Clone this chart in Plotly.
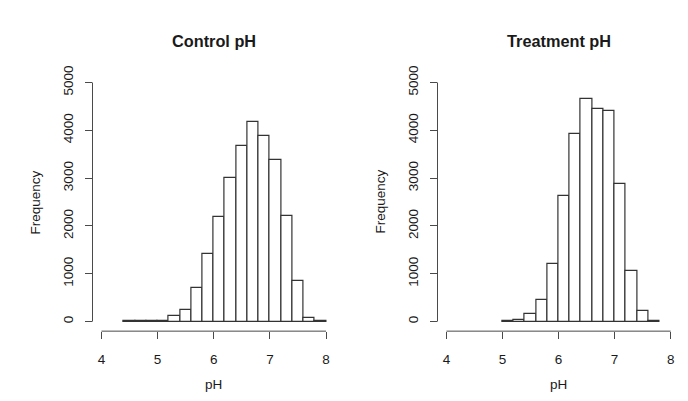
import numpy as np
import plotly.graph_objects as go

# ---- data ----
control_edges = [4.4, 4.6, 4.8, 5.0, 5.2, 5.4, 5.6, 5.8, 6.0, 6.2, 6.4, 6.6, 6.8, 7.0, 7.2, 7.4, 7.6, 7.8, 8.0]
control_counts = [8, 8, 12, 20, 116, 253, 712, 1411, 2192, 3007, 3664, 4178, 3877, 3377, 2205, 849, 82, 15]
treatment_edges = [5.0, 5.2, 5.4, 5.6, 5.8, 6.0, 6.2, 6.4, 6.6, 6.8, 7.0, 7.2, 7.4, 7.6, 7.8]
treatment_counts = [10, 30, 170, 445, 1199, 2637, 3932, 4664, 4445, 4397, 2877, 1062, 226, 15]
x_ticks = [4, 5, 6, 7, 8]
y_ticks = [0, 1000, 2000, 3000, 4000, 5000]
titles = ["Control pH", "Treatment pH"]
x_label = "pH"
y_label = "Frequency"

FONT = "Liberation Sans, Arial, sans-serif"
TXT = "#1a1a1a"
AX = "#4a4a4a"
FS = 13.5
TFS = 16.3

W, H = 688, 401
PAD = 8  # default page body margin
FW, FH = W - 2 * PAD, H - 2 * PAD


def xf(px):
    return (px - PAD) / FW


def yf(py):
    return 1 - (py - PAD) / FH


fig = go.Figure()

panels = [
    (control_edges, control_counts, "x", "y", [xf(92.5), xf(335.0)]),
    (treatment_edges, treatment_counts, "x2", "y2", [xf(437.5), xf(679.6)]),
]
ydom = [yf(330.0), yf(67.0)]

layout = dict(
    width=FW, height=FH, margin=dict(l=0, r=0, t=0, b=0),
    paper_bgcolor="white", plot_bgcolor="white", showlegend=False,
    bargap=0, font=dict(family=FONT, color=TXT, size=FS),
)
shapes = []
annotations = []
for i, (edges, counts, xa, ya, xdom) in enumerate(panels):
    e = np.array(edges)
    centers = (e[:-1] + e[1:]) / 2
    widths = np.diff(e)
    fig.add_trace(go.Bar(
        x=centers, y=counts, width=widths, xaxis=xa, yaxis=ya,
        marker=dict(color="white", line=dict(color="#333333", width=1.2)),
        hoverinfo="x+y",
    ))
    xk = "xaxis" if xa == "x" else "xaxis2"
    yk = "yaxis" if ya == "y" else "yaxis2"
    layout[xk] = dict(
        domain=xdom, range=[3.84, 8.16], anchor=ya,
        tickvals=x_ticks, ticktext=[str(t) for t in x_ticks],
        ticks="outside", ticklen=7, tickcolor=AX, tickwidth=1,
        showline=False, showgrid=False, zeroline=False,
        tickfont=dict(size=FS, color=TXT, family=FONT), ticklabelstandoff=9,
    )
    layout[yk] = dict(
        domain=ydom, range=[-200, 5200], anchor=xa,
        tickvals=y_ticks, ticktext=[str(t) for t in y_ticks],
        ticks="outside", ticklen=7, tickcolor=AX, tickwidth=1, tickangle=-90,
        showline=False, showgrid=False, zeroline=False,
        tickfont=dict(size=FS, color=TXT, family=FONT), ticklabelstandoff=6,
    )
    # R-style axis lines spanning first to last tick
    shapes.append(dict(type="line", xref=xa, yref=f"{ya} domain",
                       x0=x_ticks[0], x1=x_ticks[-1], y0=0, y1=0,
                       line=dict(color=AX, width=1)))
    shapes.append(dict(type="line", xref=f"{xa} domain", yref=ya,
                       x0=0, x1=0, y0=y_ticks[0], y1=y_ticks[-1],
                       line=dict(color=AX, width=1)))
    xc = (xdom[0] + xdom[1]) / 2
    annotations.append(dict(text=f"<b>{titles[i]}</b>", xref="paper", yref="paper",
                            x=xc, y=yf(34), showarrow=False,
                            font=dict(size=TFS, color=TXT, family=FONT),
                            xanchor="center", yanchor="middle"))
    annotations.append(dict(text=x_label, xref="paper", yref="paper",
                            x=xc, y=0, showarrow=False, borderpad=0,
                            font=dict(size=FS, color=TXT, family=FONT),
                            xanchor="center", yanchor="bottom"))
    annotations.append(dict(text=y_label, xref="paper", yref="paper",
                            x=xdom[0] - 57 / FW, y=(ydom[0] + ydom[1]) / 2, showarrow=False,
                            textangle=-90,
                            font=dict(size=FS, color=TXT, family=FONT),
                            xanchor="center", yanchor="middle"))

layout["shapes"] = shapes
layout["annotations"] = annotations
fig.update_layout(**layout)
fig.write_html("out.html")
